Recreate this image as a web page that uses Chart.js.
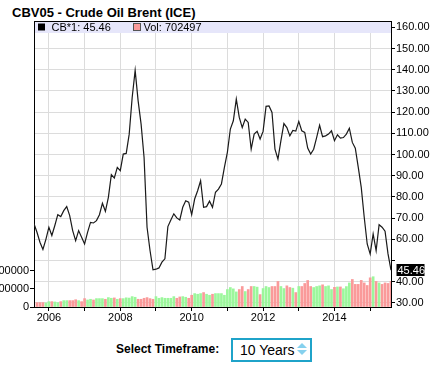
<!DOCTYPE html>
<html>
<head>
<meta charset="utf-8">
<script src="https://cdn.jsdelivr.net/npm/chart.js@4.4.1/dist/chart.umd.min.js"></script>
<style>
  html, body { margin: 0; padding: 0; background: #fff; }
  body { width: 446px; height: 372px; overflow: hidden; position: relative; font-family: "Liberation Sans", Arial, sans-serif; }
  #chart { position: absolute; left: -20px; top: 0; }
  .title { position: absolute; left: 12px; top: 5px; font-size: 13px; line-height: 15px; font-weight: bold; color: #000; }
  .tf-label { position: absolute; left: 116px; top: 342px; font-size: 12px; line-height: 14px; font-weight: bold; color: #000; }
  .tf-select { position: absolute; left: 231px; top: 338px; width: 81px; height: 24px; box-sizing: border-box;
               border: 2px solid #1fa3c9; font-size: 14px; line-height: 20px; padding-left: 7px; color: #000; }
  .arr-up, .arr-down { position: absolute; left: 64px; width: 0; height: 0; border-left: 5px solid transparent; border-right: 5px solid transparent; }
  .arr-up { top: 3px; border-bottom: 5px solid #86d1ee; }
  .arr-down { top: 10px; border-top: 5px solid #86d1ee; }
</style>
</head>
<body>
<div class="title">CBV05 - Crude Oil Brent (ICE)</div>
<canvas id="chart" width="466" height="330"></canvas>
<div class="tf-label">Select Timeframe:</div>
<div class="tf-select">10 Years<span class="arr-up"></span><span class="arr-down"></span></div>

<script>
// monthly closes, Aug 2005 .. Aug 2015
const firstYear = 2005, firstMonth = 8;
const closes = [
  67.3, 63.3, 58.6, 55.2, 60.0, 65.7, 61.8, 66.5, 71.6, 70.7,
  73.5, 75.4, 71.2, 64.1, 59.4, 64.1, 61.0, 57.8, 63.3, 68.0,
  67.7, 68.8, 71.6, 77.0, 73.2, 79.8, 90.5, 88.9, 93.9, 92.4,
  100.2, 100.5, 109.6, 126.9, 139.7, 125.3, 114.3, 98.6, 65.7, 54.7,
  45.6, 45.9, 46.5, 49.2, 50.8, 66.0, 69.1, 72.0, 70.1, 69.1,
  75.1, 78.2, 77.5, 71.6, 79.0, 82.9, 87.6, 75.1, 75.4, 78.0,
  75.1, 82.2, 83.7, 86.1, 93.9, 101.0, 112.0, 115.9, 126.1, 117.5,
  112.7, 116.7, 115.1, 102.5, 109.6, 110.9, 107.3, 110.9, 122.7, 122.9,
  119.8, 102.5, 97.8, 106.5, 114.6, 112.7, 108.8, 111.3, 111.0, 115.6,
  111.2, 110.4, 103.0, 100.2, 102.5, 108.0, 113.8, 108.4, 108.8, 109.6,
  111.2, 106.5, 109.3, 107.7, 108.0, 109.6, 112.4, 105.7, 103.0, 93.9,
  84.5, 70.4, 57.8, 53.1, 62.5, 54.7, 66.9, 65.7, 63.8, 53.1,
  45.46
];
const volumes = [
  null, 120000, 120000, 120000, 110000, 147000, 147000, 138000, 120000, 147000,
  175000, 175000, 175000, 175000, 200000, 175000, 147000, 230000, 193000, 212000,
  193000, 230000, 230000, 230000, 212000, 258000, 240000, 249000, 212000, 230000,
  230000, 252000, 245000, 285000, 267000, 212000, 212000, 239000, 258000, 230000,
  212000, 285000, 239000, 258000, 239000, 239000, 239000, 285000, 239000, 276000,
  285000, 267000, 239000, 322000, 368000, 350000, 368000, 396000, 350000, 322000,
  350000, 368000, 368000, 368000, 322000, 479000, 534000, 497000, 414000, 479000,
  562000, 424000, 479000, 562000, 562000, 545000, 340000, 506000, 562000, 534000,
  562000, 562000, 700000, 562000, 506000, 580000, 534000, 516000, 396000, 562000,
  562000, 645000, 727000, 562000, 534000, 562000, 580000, 608000, 562000, 580000,
  480000, 540000, 550000, 550000, 500000, 560000, 660000, 755000, 620000, 620000,
  730000, 660000, 590000, 800000, 830000, 700000, 660000, 620000, 660000, 645000,
  702497
];
const yearTicks = [2006, 2007, 2008, 2009, 2010, 2011, 2012, 2013, 2014, 2015];
const yearLabels = ['2006', '', '2008', '', '2010', '', '2012', '', '2014', ''];
const priceTicks = [30, 40, 50, 60, 70, 80, 90, 100, 110, 120, 130, 140, 150, 160];
const volTicks = [0, 500000, 1000000];

const UP = '#9cf79c', DOWN = '#fa9a9a';
const FONT = '"Liberation Sans", Arial, sans-serif';

function monthIndex(year) {
  return (year - firstYear) * 12 + 1 - firstMonth;
}

const lastClose = closes[closes.length - 1];
const lastVol = volumes[volumes.length - 1];
const barColors = volumes.map((v, i) => (i > 0 && closes[i] < closes[i - 1]) ? DOWN : UP);

Chart.defaults.font.family = FONT;
Chart.defaults.font.size = 11;
Chart.defaults.color = '#000';

// lavender legend strip at top of the plot + top border
const legendBand = {
  id: 'legendBand',
  beforeDatasetsDraw(chart) {
    const { ctx, chartArea: a } = chart;
    ctx.save();
    ctx.fillStyle = '#e6e6fa';
    ctx.fillRect(a.left + 1, a.top, a.right - a.left - 1, 12);
    ctx.strokeStyle = '#000';
    ctx.lineWidth = 1;
    ctx.beginPath();
    ctx.moveTo(a.left, a.top + 0.5);
    ctx.lineTo(a.right, a.top + 0.5);
    ctx.stroke();

    ctx.font = '11px ' + FONT;
    ctx.textBaseline = 'middle';
    ctx.fillStyle = '#000';
    ctx.fillRect(a.left + 4, a.top + 2.5, 7, 7);
    ctx.fillText('CB*1: ' + lastClose.toFixed(2), a.left + 17.5, a.top + 6.5);

    ctx.fillStyle = DOWN;
    ctx.fillRect(a.left + 99.5, a.top + 2.5, 7, 7);
    ctx.strokeStyle = '#555';
    ctx.strokeRect(a.left + 99.5, a.top + 2.5, 7, 7);
    ctx.fillStyle = '#000';
    ctx.fillText('Vol: ' + lastVol, a.left + 109.5, a.top + 6.5);
    ctx.restore();
  },
  afterDraw(chart) {
    // last price tag on the right axis
    const { ctx, chartArea: a } = chart;
    const y = chart.scales.price.getPixelForValue(lastClose);
    ctx.save();
    ctx.fillStyle = '#000';
    ctx.fillRect(a.right + 5.5, Math.round(y) - 6, 28, 12);
    ctx.fillStyle = '#fff';
    ctx.font = '11px ' + FONT;
    ctx.textBaseline = 'middle';
    ctx.fillText(lastClose.toFixed(2), a.right + 6.5, Math.round(y) + 0.5);
    ctx.restore();
  }
};

const ctx = document.getElementById('chart').getContext('2d');
new Chart(ctx, {
  type: 'bar',
  data: {
    datasets: [
      {
        type: 'line',
        label: 'CB*1',
        data: closes.map((v, i) => ({ x: i, y: v })),
        yAxisID: 'price',
        borderColor: '#1a1a1a',
        borderWidth: 1.2,
        pointRadius: 0,
        tension: 0,
        order: 0
      },
      {
        type: 'bar',
        label: 'Vol',
        data: volumes.map((v, i) => ({ x: i, y: v })),
        yAxisID: 'vol',
        backgroundColor: barColors,
        barThickness: 2,
        order: 1
      }
    ]
  },
  options: {
    responsive: false,
    animation: false,
    events: [],
    layout: { padding: { top: 21, left: 0, right: 0, bottom: 0 } },
    plugins: {
      legend: { display: false },
      tooltip: { enabled: false }
    },
    scales: {
      x: {
        type: 'linear',
        min: 0,
        max: closes.length - 1,
        offset: false,
        afterBuildTicks: s => { s.ticks = yearTicks.map(y => ({ value: monthIndex(y) })); },
        afterFit: s => { s.height = 23; },
        grid: { color: '#dcdcdc', offset: false, tickColor: '#000', tickLength: 4 },
        border: { color: '#000' },
        ticks: {
          padding: 0,
          maxRotation: 0,
          autoSkip: false,
          callback: (v) => yearLabels[yearTicks.findIndex(y => monthIndex(y) === v)]
        }
      },
      vol: {
        type: 'linear',
        position: 'left',
        min: 0,
        max: 7840000,
        afterBuildTicks: s => { s.ticks = volTicks.map(v => ({ value: v })); },
        afterFit: s => { s.width = 54; },
        grid: { drawOnChartArea: false, tickColor: '#000', tickLength: 4 },
        border: { color: '#000' },
        ticks: { padding: 1, callback: v => String(v) }
      },
      price: {
        type: 'linear',
        position: 'right',
        min: 28.07,
        max: 162.96,
        afterBuildTicks: s => { s.ticks = priceTicks.map(v => ({ value: v })); },
        afterFit: s => { s.width = 55; },
        grid: { color: '#dcdcdc', tickColor: '#000', tickLength: 4 },
        border: { color: '#000' },
        ticks: { padding: 1, callback: v => v === 50 ? '' : v.toFixed(2) }
      }
    }
  },
  plugins: [legendBand]
});
</script>
</body>
</html>
